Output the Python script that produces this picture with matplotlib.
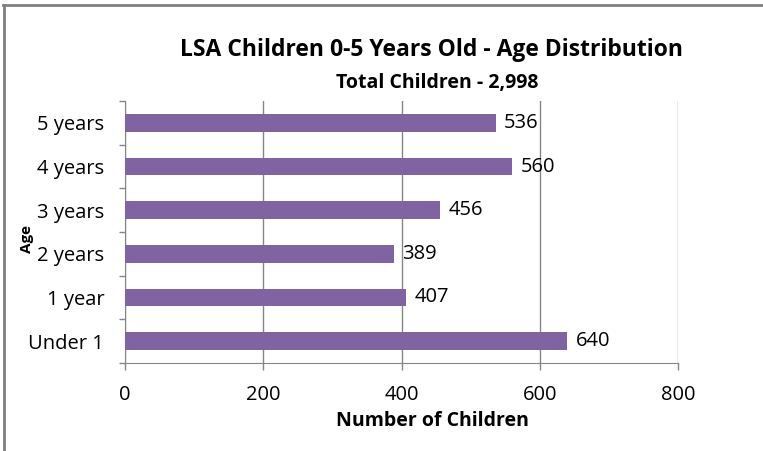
import matplotlib
matplotlib.use("Agg")
import matplotlib.pyplot as plt
from matplotlib.lines import Line2D
import numpy as np

categories = ["Under 1", "1 year", "2 years", "3 years", "4 years", "5 years"]
values = [640, 407, 389, 456, 560, 536]
xticks = [0, 200, 400, 600, 800]

plt.rcParams['font.family'] = ['Open Sans', 'DejaVu Sans']

fig = plt.figure(figsize=(7.63, 4.51), dpi=100)
ax = fig.add_axes([125/763, 1-363/451, (678-125)/763, (363-101)/451])

y = np.arange(len(categories))
ax.barh(y, values, height=0.4, color="#8064A2", zorder=3)
for yi, v in zip(y, values):
    ax.text(v + 12, yi, f"{v}", va="center", ha="left", fontsize=14.5, color="black")

ax.set_xlim(0, 800)
ax.set_ylim(-0.5, len(categories) - 0.5)
ax.set_xticks(xticks)
ax.set_xticklabels([str(t) for t in xticks], fontsize=14.5)
ax.set_yticks(y)
ax.set_yticklabels(categories, fontsize=14.5)
ax.tick_params(axis='y', length=0, pad=15)
ax.set_yticks(np.arange(-0.5, len(categories), 1), minor=True)
ax.tick_params(axis='y', which='minor', length=4.5, color="#868686", width=1)
ax.tick_params(axis='x', length=5, color="#868686", width=1, pad=11)
ax.grid(axis='x', color="#868686", linewidth=1, zorder=0)
for s in ['top', 'right']:
    ax.spines[s].set_visible(False)
for s in ['left', 'bottom']:
    ax.spines[s].set_color("#868686")

fig.text(432/763, 1-421/451, "Number of Children", fontsize=14, fontweight='bold', ha='center', va='center')
fig.text(27/763, 1-239/451, "Age", rotation=90, fontsize=11, fontweight='bold', ha='center', va='center')
fig.text(432/763, 1-50/451, "LSA Children 0-5 Years Old - Age Distribution", fontsize=16.5, fontweight='bold', ha='center', va='center')
fig.text(437/763, 1-83/451, "Total Children - 2,998", fontsize=14, fontweight='bold', ha='center', va='center')

fig.add_artist(Line2D([3.5/763, 3.5/763], [0, 1-4.5/451], transform=fig.transFigure, color="#7f7f7f", linewidth=2))
fig.add_artist(Line2D([3/763, 1], [1-4.5/451, 1-4.5/451], transform=fig.transFigure, color="#7f7f7f", linewidth=2))

fig.savefig("out.png", dpi=100)
